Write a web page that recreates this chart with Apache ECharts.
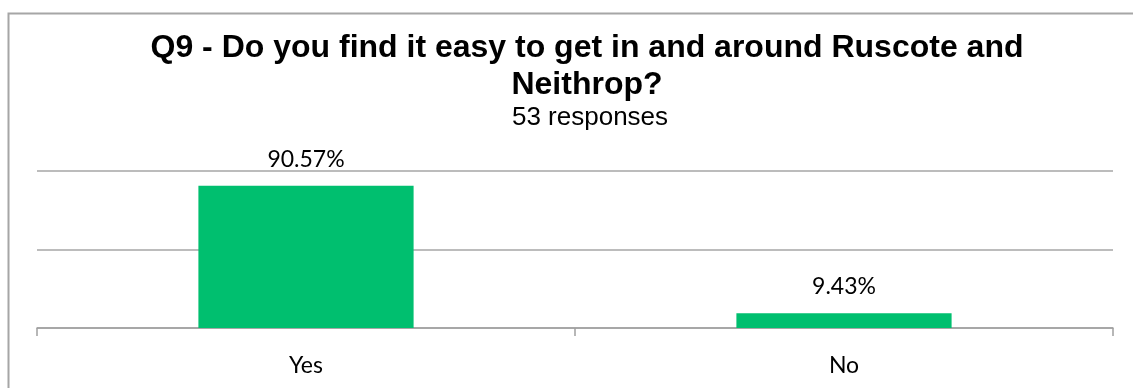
<!DOCTYPE html>
<html>
<head>
<meta charset="utf-8">
<script src="https://cdn.jsdelivr.net/npm/echarts@6/dist/echarts.min.js"></script>
<style>
  html, body { margin: 0; padding: 0; background: #ffffff; }
  #chart { width: 1133px; height: 388px; }
</style>
</head>
<body>
<div id="chart"></div>
<script>
// Survey answers for Q9 (share of 53 responses, in percent)
const categories = ['Yes', 'No'];
const percentages = [90.57, 9.43];
const titleText = 'Q9 - Do you find it easy to get in and around Ruscote and\nNeithrop?';
const subtitleText = '53 responses';

const chart = echarts.init(document.getElementById('chart'), null, { renderer: 'canvas' });

chart.setOption({
  animation: false,
  backgroundColor: '#ffffff',
  title: [
    {
      text: titleText,
      left: 582,
      top: 25,
      textAlign: 'center',
      textStyle: {
        fontFamily: 'Liberation Sans, Arial, sans-serif',
        fontWeight: 'bold',
        fontSize: 32,
        lineHeight: 37,
        color: '#000000'
      }
    },
    {
      text: subtitleText,
      left: 585,
      top: 100,
      textAlign: 'center',
      textStyle: {
        fontFamily: 'Liberation Sans, Arial, sans-serif',
        fontWeight: 'normal',
        fontSize: 26,
        color: '#000000'
      }
    }
  ],
  graphic: [
    {
      type: 'rect',
      shape: { x: 8.5, y: 13.5, width: 1140, height: 400 },
      style: { fill: 'none', stroke: '#a6a6a6', lineWidth: 2 },
      silent: true
    }
  ],
  grid: {
    left: 37,
    right: 20,
    top: 171,
    bottom: 60,
    containLabel: false
  },
  xAxis: {
    type: 'category',
    data: categories,
    boundaryGap: true,
    axisLine: { show: true, lineStyle: { color: '#a0a0a0', width: 1.5 } },
    axisTick: { show: true, length: 8, lineStyle: { color: '#a0a0a0', width: 1.5 } },
    axisLabel: {
      margin: 26,
      fontFamily: 'Lato, sans-serif',
      fontSize: 23,
      color: '#000000'
    }
  },
  yAxis: {
    type: 'value',
    min: 0,
    max: 100,
    interval: 50,
    axisLine: { show: false },
    axisTick: { show: false },
    axisLabel: { show: false },
    splitLine: { show: true, lineStyle: { color: '#a6a6a6', width: 1.5 } }
  },
  series: [
    {
      type: 'bar',
      data: percentages,
      barWidth: '40%',
      itemStyle: { color: '#00bf6f' },
      label: {
        show: true,
        position: 'top',
        distance: 15,
        formatter: (p) => p.value.toFixed(2) + '%',
        fontFamily: 'Lato, sans-serif',
        fontSize: 23,
        color: '#000000'
      }
    }
  ]
});
</script>
</body>
</html>
